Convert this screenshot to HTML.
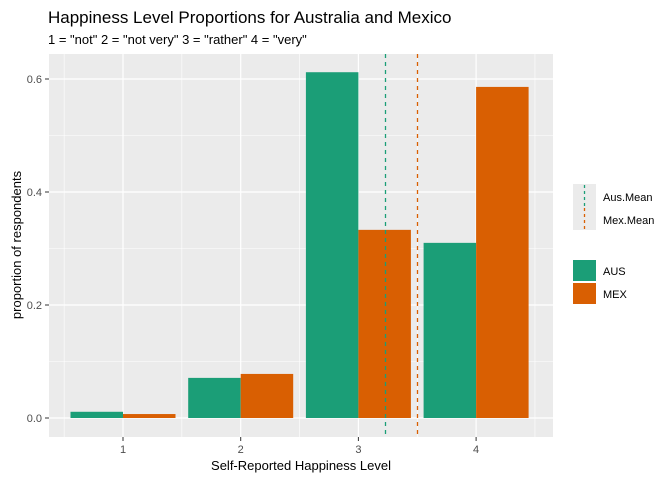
<!DOCTYPE html>
<html><head><meta charset="utf-8"><style>
body{margin:0;background:#fff;font-family:"Liberation Sans",Arial,sans-serif}
text{font-family:"Liberation Sans",Arial,sans-serif}
</style></head><body>
<svg id="c" width="672" height="480">
<text x="48" y="23" font-size="17" fill="#000">Happiness Level Proportions for Australia and Mexico</text>
<text x="48" y="44" font-size="13" fill="#000">1 = "not" 2 = "not very" 3 = "rather" 4 = "very"</text>
<rect x="49" y="54" width="504" height="383" fill="#ebebeb"/>
<g id="grid"></g><g id="bars"></g><g id="axes"></g>
<text x="301" y="470" font-size="13" text-anchor="middle">Self-Reported Happiness Level</text>
<text transform="translate(21,245) rotate(-90)" font-size="13" text-anchor="middle">proportion of respondents</text>
<g>
<rect x="573" y="184" width="23" height="46" fill="#ebebeb"/>
<line x1="584.5" y1="185" x2="584.5" y2="206" stroke="#1b9e77" stroke-width="1.3" stroke-dasharray="3,3"/>
<line x1="584.5" y1="208" x2="584.5" y2="229" stroke="#d95f02" stroke-width="1.3" stroke-dasharray="3,3"/>
<text x="603" y="201" font-size="11">Aus.Mean</text>
<text x="603" y="224" font-size="11">Mex.Mean</text>
</g>
<g>
<rect x="573" y="260" width="23" height="21" fill="#1b9e77"/>
<rect x="573" y="283" width="23" height="21" fill="#d95f02"/>
<text x="603" y="275" font-size="11">AUS</text>
<text x="603" y="298" font-size="11">MEX</text>
</g>
</svg>
<script>
const categories=[1,2,3,4];
const ausValues=[0.011,0.071,0.612,0.310];
const mexValues=[0.007,0.078,0.333,0.586];
const yTicks=[0,0.2,0.4,0.6];
const yTickLabels=["0.0","0.2","0.4","0.6"];
const ausMean=3.23;
const mexMean=3.50;
const NS="http://www.w3.org/2000/svg";
function xs(v){return 123+(v-1)*117.7;}
function ys(v){return 418-v*565;}
function mk(p,t,a){const e=document.createElementNS(NS,t);for(const k in a)e.setAttribute(k,a[k]);document.getElementById(p).appendChild(e);return e;}
yTicks.forEach((t,i)=>{
 if(i<yTicks.length-1){const m=mk('grid','line',{x1:49,x2:553,y1:ys(t+0.1),y2:ys(t+0.1),stroke:'#fff','stroke-width':0.6});
 
 }
 const g=mk('grid','line',{x1:49,x2:553,y1:ys(t),y2:ys(t),stroke:'#fff','stroke-width':1.2});
 
 
 const tk=mk('axes','line',{x1:45,x2:49,y1:ys(t),y2:ys(t),stroke:'#333'});
 
 
 const l=mk('axes','text',{x:42,y:ys(t)+4,'font-size':11,fill:'#4d4d4d','text-anchor':'end'});
 l.textContent=yTickLabels[i];
 
 
});
[0.5,1.5,2.5,3.5,4.5].forEach(v=>{const m=mk('grid','line',{x1:xs(v),x2:xs(v),y1:54,y2:437,stroke:'#fff','stroke-width':0.6});
 
 });
categories.forEach((c,i)=>{
 const g=mk('grid','line',{x1:xs(c),x2:xs(c),y1:54,y2:437,stroke:'#fff','stroke-width':1.2});
 
 
 const w=52.5;
 const a=mk('bars','rect',{x:xs(c)-w,y:ys(ausValues[i]),width:w,height:ys(0)-ys(ausValues[i]),fill:'#1b9e77'});
 
 
 const m=mk('bars','rect',{x:xs(c),y:ys(mexValues[i]),width:w,height:ys(0)-ys(mexValues[i]),fill:'#d95f02'});
 
 
 const tk=mk('axes','line',{x1:xs(c),x2:xs(c),y1:437,y2:441,stroke:'#333'});
 
 
 const l=mk('axes','text',{x:xs(c),y:453,'font-size':11,fill:'#4d4d4d','text-anchor':'middle'});
 l.textContent=c;
 
 
});
const ax=Math.round(xs(ausMean))+0.5, mx=Math.round(xs(mexMean))+0.5;
const am=mk('bars','line',{x1:ax,x2:ax,y1:54,y2:437,stroke:'#1b9e77','stroke-width':1.3,'stroke-dasharray':'4,4'});


const mm=mk('bars','line',{x1:mx,x2:mx,y1:54,y2:437,stroke:'#d95f02','stroke-width':1.3,'stroke-dasharray':'4,4'});


</script>
</body></html>
